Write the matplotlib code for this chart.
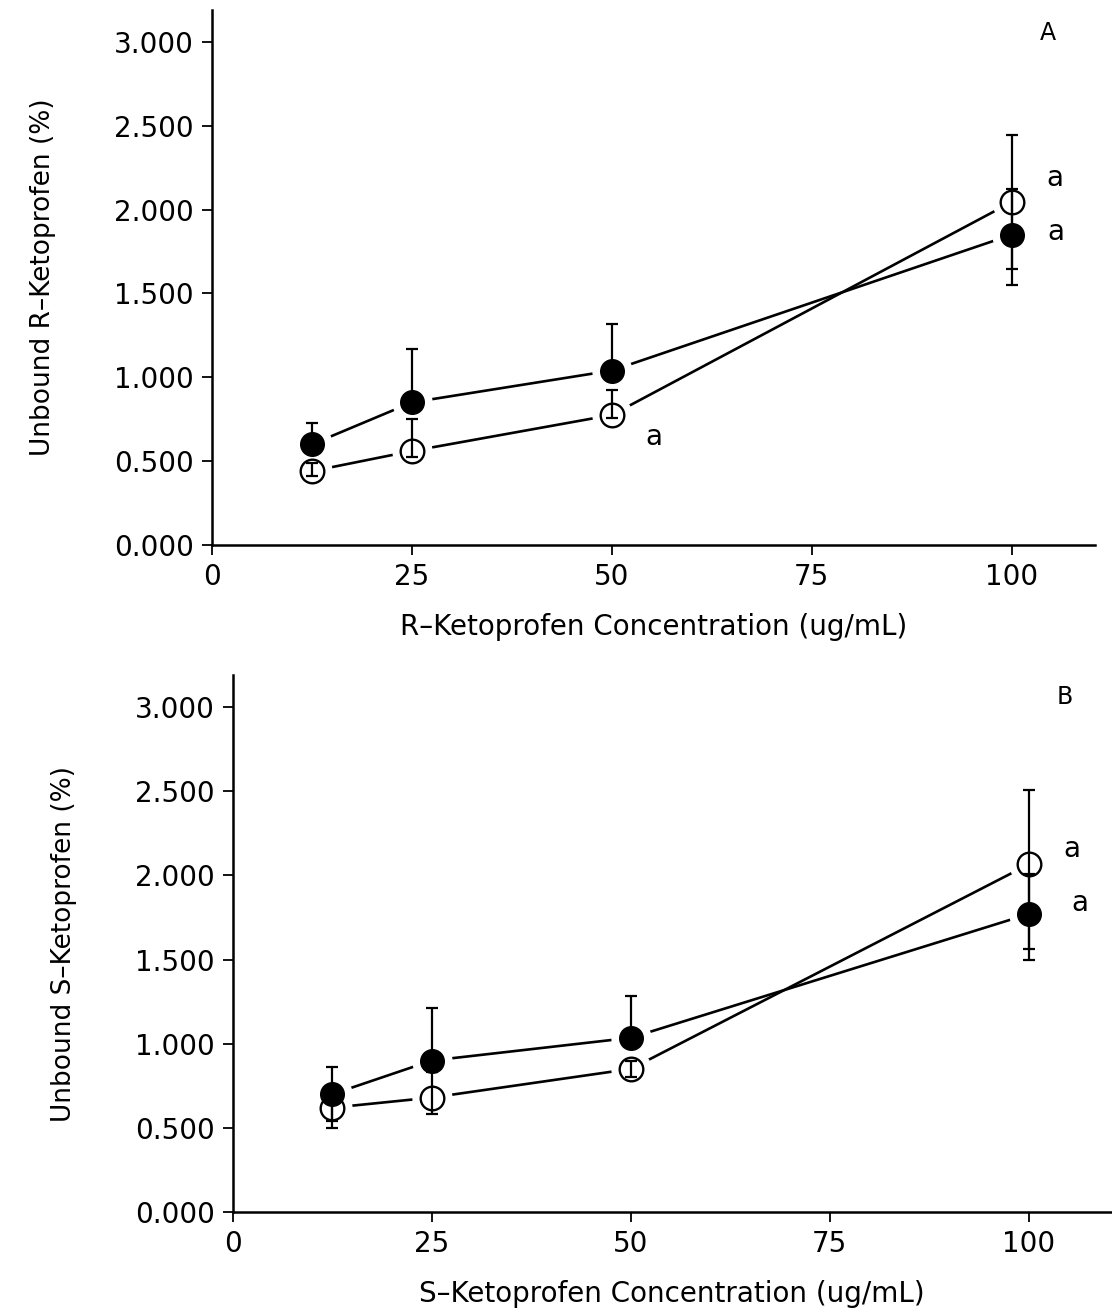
import matplotlib.pyplot as plt
import numpy as np

# concentrations (ug/mL)
conc = [12.5, 25, 50, 100]

# panel A : unbound R-ketoprofen (%)
a_filled = [0.60, 0.85, 1.04, 1.85]
a_filled_up = [0.13, 0.32, 0.28, 0.27]
a_filled_lo = [0.0, 0.0, 0.0, 0.30]
a_open = [0.44, 0.56, 0.775, 2.045]
a_open_up = [0.05, 0.19, 0.15, 0.40]
a_open_lo = [0.03, 0.035, 0.02, 0.40]

# panel B : unbound S-ketoprofen (%)
b_filled = [0.70, 0.90, 1.035, 1.77]
b_filled_up = [0.16, 0.31, 0.25, 0.24]
b_filled_lo = [0.16, 0.0, 0.0, 0.27]
b_open = [0.62, 0.68, 0.85, 2.065]
b_open_up = [0.05, 0.15, 0.05, 0.44]
b_open_lo = [0.12, 0.095, 0.05, 0.505]

yticks = [0, 0.5, 1.0, 1.5, 2.0, 2.5, 3.0]
ytick_labels = ["0.000", "0.500", "1.000", "1.500", "2.000", "2.500", "3.000"]
xticks = [0, 25, 50, 75, 100]

plt.rcParams['font.family'] = ['DejaVu Sans']

fig = plt.figure(figsize=(11.12, 13.15), dpi=100)
axA = fig.add_axes([0.1906, 0.5856, 0.7941, 0.4068])
axB = fig.add_axes([0.2095, 0.0783, 0.7900, 0.4084])


def draw_panel(ax, filled, f_up, f_lo, opn, o_up, o_lo, xlabel, ylabel):
	# connecting lines
	ax.plot(conc, filled, color='black', lw=1.9, zorder=1)
	ax.plot(conc, opn, color='black', lw=1.9, zorder=1)
	# white halos give the small gaps between lines and symbols
	ax.plot(conc, filled, 'o', ms=28, mfc='white', mec='white', ls='none', zorder=2)
	ax.plot(conc, opn, 'o', ms=28, mfc='white', mec='white', ls='none', zorder=2)
	# error bars
	ax.errorbar(conc, opn, yerr=[o_lo, o_up], fmt='none', ecolor='black',
				elinewidth=1.6, capsize=4, capthick=1.6, zorder=3)
	ax.errorbar(conc, filled, yerr=[f_lo, f_up], fmt='none', ecolor='black',
				elinewidth=1.6, capsize=4, capthick=1.6, zorder=3)
	# symbols
	ax.plot(conc, opn, 'o', ms=17, mfc='none', mec='black', mew=1.7, ls='none', zorder=4)
	ax.plot(conc, filled, 'o', ms=17, mfc='black', mec='black', ls='none', zorder=5)

	ax.set_xlim(0, 110.4)
	ax.set_ylim(0, 3.19)
	ax.set_xticks(xticks)
	ax.set_yticks(yticks)
	ax.set_yticklabels(ytick_labels)
	ax.tick_params(direction='out', length=7, width=1.3, labelsize=20, pad=6)
	for side in ['top', 'right']:
		ax.spines[side].set_visible(False)
	for side in ['left', 'bottom']:
		ax.spines[side].set_linewidth(1.8)
	ax.set_xlabel(xlabel, fontsize=20, labelpad=16)
	ax.set_ylabel(ylabel, fontsize=19, labelpad=42)


draw_panel(axA, a_filled, a_filled_up, a_filled_lo, a_open, a_open_up, a_open_lo,
		   "R\u2013Ketoprofen Concentration (ug/mL)", "Unbound R\u2013Ketoprofen (%)")
draw_panel(axB, b_filled, b_filled_up, b_filled_lo, b_open, b_open_up, b_open_lo,
		   "S\u2013Ketoprofen Concentration (ug/mL)", "Unbound S\u2013Ketoprofen (%)")

# significance letters
axA.annotate("a", (conc[3], a_open[3]), xytext=(31, 17), textcoords='offset points',
			 fontsize=20, ha='center', va='center')
axA.annotate("a", (conc[3], a_filled[3]), xytext=(32, 2), textcoords='offset points',
			 fontsize=20, ha='center', va='center')
axA.annotate("a", (conc[2], a_open[2]), xytext=(30, -16), textcoords='offset points',
			 fontsize=20, ha='center', va='center')
axB.annotate("a", (conc[3], b_open[3]), xytext=(31, 11), textcoords='offset points',
			 fontsize=20, ha='center', va='center')
axB.annotate("a", (conc[3], b_filled[3]), xytext=(37, 8), textcoords='offset points',
			 fontsize=20, ha='center', va='center')

axA.text(104.5, 3.05, "A", fontsize=17, ha='center', va='center')
axB.text(104.5, 3.06, "B", fontsize=17, ha='center', va='center')

fig.savefig("out.png", dpi=100)
